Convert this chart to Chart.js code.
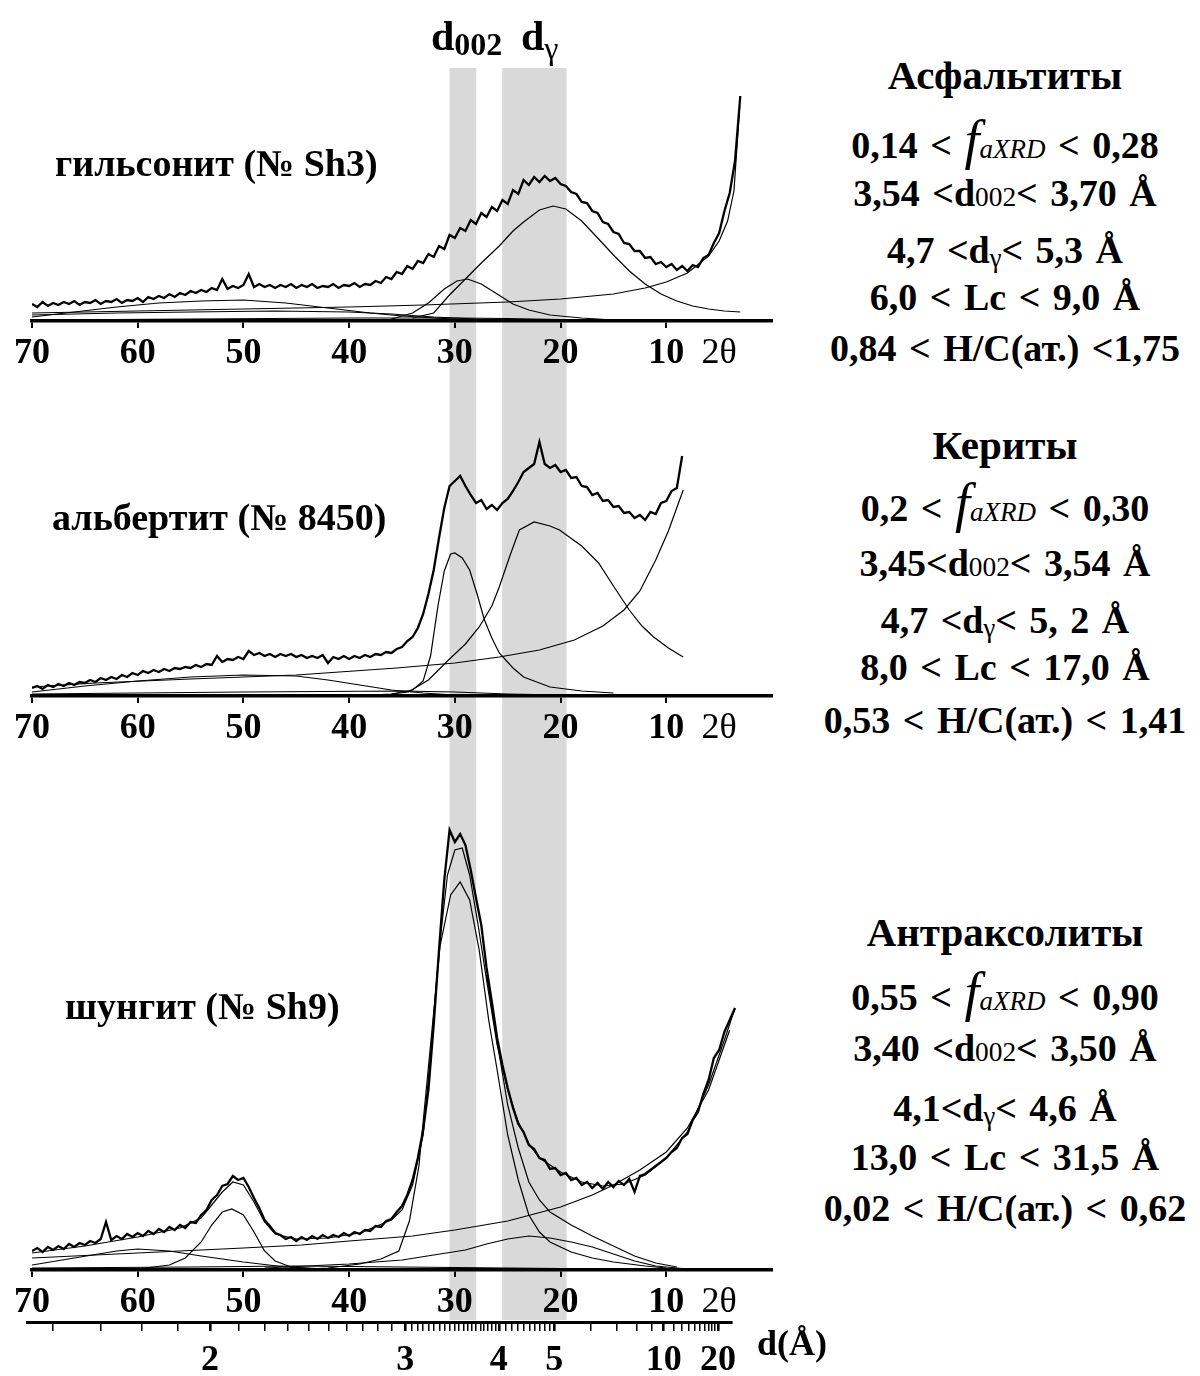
<!DOCTYPE html>
<html>
<head>
<meta charset="utf-8">
<script src="https://cdn.jsdelivr.net/npm/chart.js@4.4.1/dist/chart.umd.min.js"></script>
<style>
body{margin:0;background:#fff;overflow:hidden;}
#wrap{position:relative;width:1200px;height:1376px;font-family:"Liberation Serif","Times New Roman",serif;font-weight:bold;color:#000;}
canvas{position:absolute;left:0;}
.t{position:absolute;white-space:nowrap;line-height:1;}
.c{position:absolute;left:805px;width:400px;text-align:center;white-space:nowrap;line-height:1;font-size:38px;word-spacing:3px;}
.h{font-size:41px;}
.f{font-style:italic;font-weight:normal;font-size:54px;line-height:0;}
.fs{font-style:italic;font-weight:normal;font-size:27px;line-height:0;}
.s0{font-size:0.72em;font-weight:normal;}
.sg{font-size:0.7em;font-weight:normal;vertical-align:-0.15em;line-height:0;}
.ts{font-size:32px;vertical-align:-5px;}
</style>
</head>
<body>
<div id="wrap">
  <canvas id="p1" width="790" height="380" style="top:0"></canvas>
  <canvas id="p2" width="790" height="380" style="top:380px"></canvas>
  <canvas id="p3" width="790" height="570" style="top:760px"></canvas>
  <canvas id="pd" width="790" height="154" style="top:1242px"></canvas>

  <div class="t" style="left:431px;top:15px;font-size:42px">d<span class="ts">002</span></div>
  <div class="t" style="left:521px;top:15px;font-size:42px">d<span class="ts" style="font-weight:normal;vertical-align:-9px">γ</span></div>

  <div class="t" style="left:55px;top:144px;font-size:38px">гильсонит (№ Sh3)</div>
  <div class="t" style="left:52px;top:498px;font-size:38px">альбертит (№ 8450)</div>
  <div class="t" style="left:65px;top:987px;font-size:38px">шунгит (№ Sh9)</div>
  <div class="t" style="left:757px;top:1325px;font-size:36px">d(Å)</div>

  <div class="c h" style="top:55px">Асфальтиты</div>
  <div class="c" style="top:126px">0,14 &lt; <span class="f">f</span><span class="fs">aXRD</span> &lt; 0,28</div>
  <div class="c" style="top:174px">3,54 &lt;d<span class="s0">002</span>&lt; 3,70 Å</div>
  <div class="c" style="top:231px">4,7 &lt;d<span class="sg">γ</span>&lt; 5,3 Å</div>
  <div class="c" style="top:278px">6,0 &lt; Lc &lt; 9,0 Å</div>
  <div class="c" style="top:329px">0,84 &lt; H/C(ат.) &lt;1,75</div>

  <div class="c h" style="top:425px">Кериты</div>
  <div class="c" style="top:489px">0,2 &lt; <span class="f">f</span><span class="fs">aXRD</span> &lt; 0,30</div>
  <div class="c" style="top:544px">3,45&lt;d<span class="s0">002</span>&lt; 3,54 Å</div>
  <div class="c" style="top:601px">4,7 &lt;d<span class="sg">γ</span>&lt; 5, 2 Å</div>
  <div class="c" style="top:648px">8,0 &lt; Lc &lt; 17,0 Å</div>
  <div class="c" style="top:701px">0,53 &lt; H/C(ат.) &lt; 1,41</div>

  <div class="c h" style="top:912px">Антраксолиты</div>
  <div class="c" style="top:978px">0,55 &lt; <span class="f">f</span><span class="fs">aXRD</span> &lt; 0,90</div>
  <div class="c" style="top:1029px">3,40 &lt;d<span class="s0">002</span>&lt; 3,50 Å</div>
  <div class="c" style="top:1089px">4,1&lt;d<span class="sg">γ</span>&lt; 4,6 Å</div>
  <div class="c" style="top:1138px">13,0 &lt; Lc &lt; 31,5 Å</div>
  <div class="c" style="top:1189px">0,02 &lt; H/C(ат.) &lt; 0,62</div>
</div>

<script>
// Co K-alpha, used to place the d(A) scale and the shaded d ranges on the 2theta axis
const LAMBDA = 1.789;
const FONT = 'Liberation Serif';

const thetaTicks = [70, 60, 50, 40, 30, 20, 10];
const thetaLabelAt = 5;      // where the "2θ" caption sits in the tick row
const dMajor = [2, 3, 4, 5, 10, 20];
const dMinor = [1.6, 1.7, 1.8, 1.9, 2.1, 2.2, 2.3, 2.4, 2.5, 2.6, 2.7, 2.8, 2.9,
  3.05, 3.1, 3.15, 3.2, 3.25, 3.3, 3.35, 3.4, 3.45, 3.5, 3.55, 3.6, 3.65, 3.7, 3.75, 3.8, 3.85, 3.9, 3.95,
  4.1, 4.2, 4.3, 4.4, 4.5, 4.6, 4.7, 4.8, 4.9, 6, 7, 8, 9, 11, 12, 13, 14, 15, 16, 17, 18, 19];

// shaded ranges, in d (A)
const d002Band = [3.40, 3.70];
const dGammaBand = [4.05, 5.30];

// raw scans: start 2theta, step, intensities
const rawStart = 70, rawStep = 0.5;
const gilsRaw = [17,14,19,15,18,16,19,17,20,16,19,18,21,17,20,19,22,18,21,20,23,
  19,24,22,25,23,27,24,28,26,30,28,31,29,33,31,42,32,35,33,36,
  47,34,37,34,36,33,36,34,37,33,36,34,37,33,35,34,37,33,36,35,
  38,34,37,36,40,38,44,42,49,47,55,52,60,58,67,64,75,72,86,83,
  93,90,101,97,108,104,114,110,121,117,131,127,141,136,144,139,145,140,143,137,
  135,129,127,119,118,110,108,99,97,89,87,78,77,70,70,63,64,57,59,54,
  57,51,55,50,56,54,63,66,78,88,110,128,160,225];
const albRaw = [8,10,7,11,9,12,10,13,11,14,13,16,14,18,16,19,17,21,19,23,21,
  25,23,26,24,27,25,28,27,29,28,31,29,32,31,40,34,37,36,39,37,
  45,41,43,40,42,39,42,40,42,39,41,38,40,38,41,33,39,37,40,37,
  40,38,41,39,42,41,44,43,47,49,55,59,68,82,102,126,158,188,210,215,
  220,210,201,193,196,187,191,186,193,197,205,214,224,228,232,254,232,228,231,224,
  226,218,219,210,209,201,203,195,196,189,190,183,184,178,181,176,184,182,193,195,
  205,208,240];
const shuRaw = [19,22,18,23,20,24,21,26,23,27,25,29,27,31,48,30,34,31,36,33,37,
  34,39,36,41,38,43,40,45,42,48,47,55,60,70,75,84,86,94,90,92,
  83,72,62,50,44,37,35,31,33,29,33,30,34,31,35,32,35,33,37,34,
  38,36,40,39,44,43,49,51,58,64,75,90,112,140,180,245,320,390,440,428,
  436,425,400,372,345,302,268,232,205,182,162,146,138,125,121,112,110,101,102,95,
  97,90,92,85,88,82,87,81,88,83,89,85,91,78,94,96,100,104,108,112,
  118,122,132,136,150,158,176,190,212,220,238,250,262];

// fitted components: [2theta, intensity]
const gilsGamma = [[34,3],[32,8],[30.6,25],[29,42],[27.5,58],[25.8,75],[24.5,90],[23.5,99],[22,111],[20.7,115],[19.5,112],[18,100],[16.4,82],[15,66],[13.5,50],[12,37],[10.5,27],[9,20],[7.5,15],[6,12],[4.5,10],[3,9]];
const gils002 = [[36,2],[34,8],[32.5,18],[31,32],[29.8,40],[28.8,42],[27.5,37],[26,27],[24.5,17],[23,11],[21,6],[18,3],[15,1]];
const gilsHump = [[70,4],[66,9],[62,14],[58,18],[54,20],[50,21],[46,18],[42,13],[38,8],[35,5],[32,3],[28,1],[24,0]];
const gilsBack = [[70,8],[60,10],[50,12],[40,14],[33,16],[25,19],[20,22],[15,27],[12,33],[10,39],[8,48],[6,65],[5,80],[4.2,100],[3.6,130],[3.05,215]];
const gilsLow = [[70,6],[62,8],[55,9],[47,10],[40,9],[36,7],[32,4],[28,2],[22,1],[15,0]];
const gilsBase = [[70,1],[55,2],[40,3],[30,3],[25,2.5],[20,1.5],[14,0.5]];

const alb002 = [[38,1],[36,2],[34,6],[33,15],[32.3,40],[31.6,90],[31,125],[30.4,142],[30,143],[29.3,138],[28.6,126],[27.9,102],[27.2,76],[26.5,58],[25.8,43],[24.5,28],[23.5,19],[21,9],[18,5],[15,3]];
const albGamma = [[36,2],[34.4,4],[32.5,16],[30.6,36],[29,52],[27.7,69],[26.5,90],[25.8,109],[24.8,140],[23.9,166],[22.5,174],[21,170],[20.1,166],[18,150],[16.4,133],[15,110],[13.5,86],[12.3,70],[11.2,59],[9.8,48],[8.4,39]];
const albBack = [[70,9],[64,13],[55,17],[45,21],[35.5,28],[30,33],[25.8,39],[22,46],[18.7,56],[16,70],[14,86],[12.5,105],[11,136],[9.8,165],[8.4,206]];
const albHump = [[70,4],[65,10],[60,15],[55,19],[50,21],[45,20],[42,16],[39,11],[36,6],[33,3],[30,1],[26,0]];
const albBase = [[70,2],[50,4],[35,5],[30,4],[25,2],[20,1],[10,0.5]];

const shuFit = [[70,17],[65,24],[60,33],[56,42],[54,52],[52,78],[51,88],[50,85],[49,68],[48,48],[47,36],[45,31],[42,32],[39,37],[36,50],[35,60],[34,85],[33,135],[32.3,215],[31.5,320],[30.7,395],[30,420],[29.3,422],[28.6,395],[27.8,345],[27,290],[26,225],[25,180],[24,148],[23,126],[22,112],[20,98],[18,88],[16,84],[14,86],[12,95],[10,112],[8,138],[6,185],[4.5,230],[3.5,262]];
const shu002 = [[44,1],[42,2],[39,6],[37,11],[35.3,19],[34.3,49],[33.4,104],[32.4,214],[31.4,324],[30.4,375],[29.5,388],[28.6,370],[27.7,320],[26.8,250],[26,200],[25,135],[24,90],[23,55],[22,38],[21,28],[19,18],[17,12],[15,8],[12,4],[10,2]];
const shu002g = [[27,295],[26,228],[25,165],[24,122],[23,88],[22,70],[21,58],[19,45],[17,34],[15,24],[13,14],[11,7],[9,3]];
const shu100 = [[60,1],[57,5],[55.5,12],[54,28],[53,45],[52,58],[51.1,61],[50,55],[49,38],[48,19],[47,9],[45.5,3],[43,1]];
const shuBack = [[70,12],[60,17],[50,22],[44.5,25],[40,29],[34,34],[30,40],[25,49],[20,63],[17,75],[15,85],[12.5,100],[10,118],[8,142],[6,180],[4,240]];
const shuGamma = [[48,2],[40,6],[35,10],[32,15],[29,20],[27,26],[25,31],[23,34],[21,32],[19,28],[17,23],[15,16],[13,9],[11,4],[8,1]];
const shuHump = [[70,5],[66,12],[62,19],[60,21],[57,19],[54,14],[50,8],[46,3],[42,1]];
const shuBase = [[70,2],[55,3],[45,4],[35,3],[25,2],[15,1]];

function twoTheta(d) { return 2 * Math.asin(LAMBDA / (2 * d)) * 180 / Math.PI; }
function pairs(arr) { return arr.map(p => ({x: p[0], y: p[1]})); }
function scan(vals) { return vals.map((v, i) => ({x: rawStart - i * rawStep, y: v})); }
function raw(vals) { return {data: scan(vals), borderColor: '#000', borderWidth: 2.3, pointRadius: 0}; }
function fit(arr) { return {data: pairs(arr), borderColor: '#000', borderWidth: 1.2, pointRadius: 0}; }

const bandPlugin = {
  id: 'bands',
  beforeDraw(chart, args, o) {
    const {ctx, chartArea, scales: {x}} = chart;
    const top = o.fromArea ? chartArea.top : 0;
    const bottom = o.below ? chartArea.bottom + o.below : chart.height;
    ctx.save();
    ctx.fillStyle = '#d9d9d9';
    [d002Band, dGammaBand].forEach(b => {
      const x1 = x.getPixelForValue(twoTheta(b[0]));
      const x2 = x.getPixelForValue(twoTheta(b[1]));
      ctx.fillRect(Math.min(x1, x2), top, Math.abs(x2 - x1), bottom - top);
    });
    ctx.restore();
  }
};

function panel(id, datasets, ymax, padding, bands) {
  return new Chart(document.getElementById(id), {
    type: 'line',
    data: {datasets: datasets},
    options: {
      responsive: false,
      animation: false,
      events: [],
      layout: {padding: padding},
      plugins: {legend: {display: false}, tooltip: {enabled: false}, bands: bands},
      elements: {line: {tension: 0}},
      scales: {
        x: {
          type: 'linear', reverse: true, min: 0, max: 70,
          afterBuildTicks: s => { s.ticks = thetaTicks.concat([thetaLabelAt]).map(v => ({value: v})); },
          ticks: {
            autoSkip: false, maxRotation: 0, padding: 4, color: '#000',
            font: c => ({family: FONT, size: 36, lineHeight: 1.2,
              weight: c.tick && c.tick.value === thetaLabelAt ? 'normal' : 'bold'}),
            callback: v => v === thetaLabelAt ? '2θ' : String(v)
          },
          grid: {
            drawOnChartArea: false, drawTicks: true, tickLength: 7, lineWidth: 2,
            color: c => c.tick && c.tick.value === thetaLabelAt ? 'rgba(0,0,0,0)' : '#000'
          },
          border: {display: true, color: '#000', width: 3.5}
        },
        y: {display: false, min: 0, max: ymax}
      }
    },
    plugins: [bandPlugin]
  });
}

panel('p1', [raw(gilsRaw), fit(gilsGamma), fit(gils002), fit(gilsHump), fit(gilsBack), fit(gilsLow), fit(gilsBase)],
  253, {top: 68, left: 32, right: 18, bottom: 0.8}, {fromArea: true});
panel('p2', [raw(albRaw), fit(alb002), fit(albGamma), fit(albBack), fit(albHump), fit(albBase)],
  316, {top: 0, left: 32, right: 18, bottom: 5.8}, {fromArea: false});
panel('p3', [raw(shuRaw), fit(shuFit), fit(shu002), fit(shu002g), fit(shu100), fit(shuBack), fit(shuGamma), fit(shuHump), fit(shuBase)],
  510, {top: 0, left: 32, right: 18, bottom: 1.8}, {fromArea: false, below: 50});

// d(A) scale under the last pattern
const dAll = dMajor.concat(dMinor).sort((a, b) => b - a);
new Chart(document.getElementById('pd'), {
  type: 'line',
  data: {datasets: [{data: []}]},
  options: {
    responsive: false,
    animation: false,
    events: [],
    layout: {padding: {top: 0, left: 27, right: 59, bottom: 5}},
    plugins: {legend: {display: false}, tooltip: {enabled: false}},
    scales: {
      x: {
        type: 'linear', reverse: true, min: 3.9, max: 70.44,
        afterBuildTicks: s => { s.ticks = dAll.map(d => ({value: twoTheta(d), d: d})); },
        ticks: {
          autoSkip: false, maxRotation: 0, padding: 12, color: '#000',
          font: {family: FONT, size: 36, weight: 'bold', lineHeight: 1},
          callback: (v, i, ticks) => dMajor.includes(ticks[i].d) ? String(ticks[i].d) : ''
        },
        grid: {
          drawOnChartArea: false, drawTicks: true, tickLength: 9, color: '#000',
          lineWidth: c => c.tick && dMajor.includes(c.tick.d) ? 2.6 : 1.5
        },
        border: {display: true, color: '#000', width: 3}
      },
      y: {display: false, min: 0, max: 1}
    }
  }
});
</script>
</body>
</html>
